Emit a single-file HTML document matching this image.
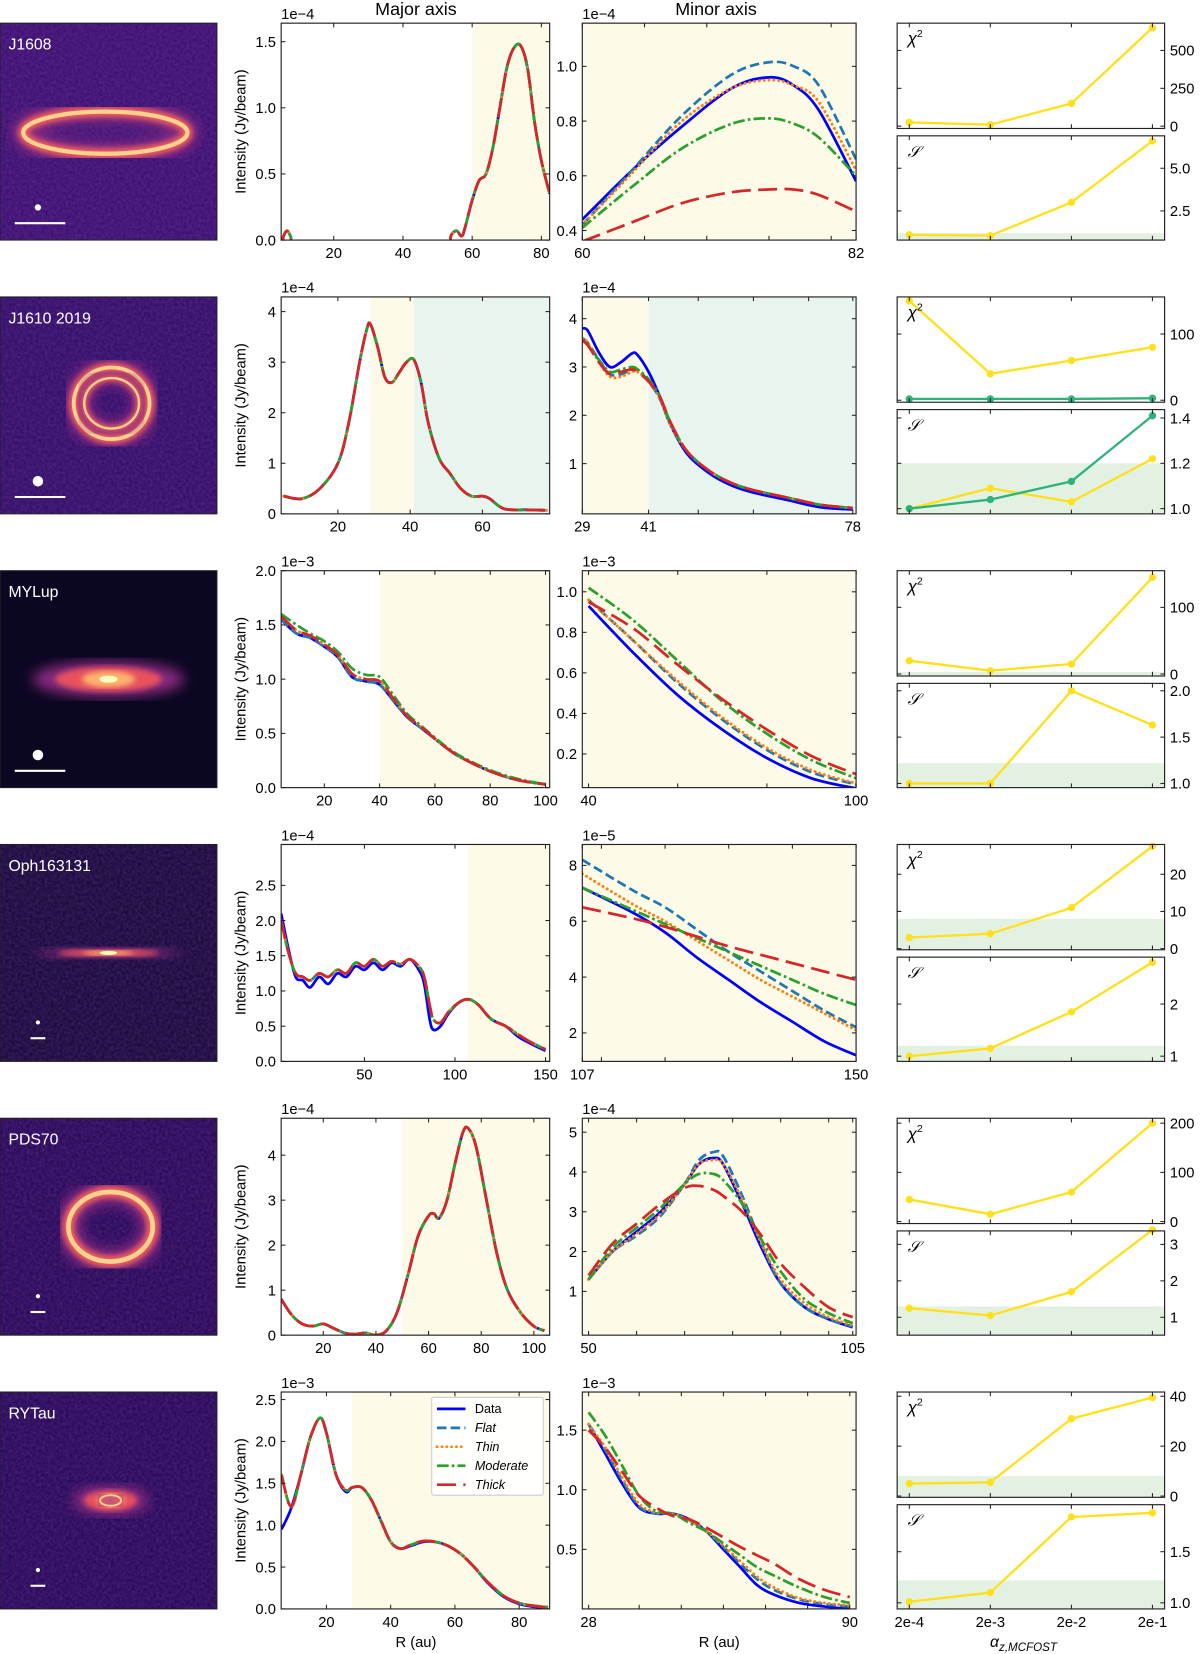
<!DOCTYPE html>
<html><head><meta charset="utf-8">
<style>
html,body{margin:0;padding:0;background:#fff;}
svg{display:block;font-family:"Liberation Sans","DejaVu Sans",sans-serif;}
</style></head>
<body>
<svg id="fig" width="1200" height="1654" viewBox="0 0 1139.6 1570.8" xmlns="http://www.w3.org/2000/svg">
<defs>
<filter id="noise" x="0" y="0" width="100%" height="100%">
<feTurbulence type="fractalNoise" baseFrequency="0.35" numOctaves="2" seed="3"/>
<feColorMatrix type="matrix" values="0 0 0 0 0.45  0 0 0 0 0.15  0 0 0 0 0.6  0 0 0 0.9 -0.2"/>
</filter>
<filter id="blur2"><feGaussianBlur stdDeviation="2.5"/></filter>
<filter id="blur5"><feGaussianBlur stdDeviation="6"/></filter>
</defs>
<text x="395" y="14" font-size="17" text-anchor="middle">Major axis</text>
<text x="680" y="14" font-size="17" text-anchor="middle">Minor axis</text>
<text x="395" y="1564" font-size="14" text-anchor="middle">R (au)</text>
<text x="683" y="1564" font-size="14" text-anchor="middle">R (au)</text>
<text x="972" y="1564" font-size="15" text-anchor="middle" font-style="italic">α<tspan font-size="11" dy="4">z,MCFOST</tspan></text>
</svg>
<script>
// ---------- data (display-space units: values of intensity in offset units) ----------
const rowNames = ["J1608","J1610 2019","MYLup","Oph163131","PDS70","RYTau"];
const offsets = ["1e\u22124","1e\u22124","1e\u22123","1e\u22124","1e\u22124","1e\u22123"];
const minorOffsets = ["1e\u22124","1e\u22124","1e\u22123","1e\u22125","1e\u22124","1e\u22123"];
const alphaLabels = ["2e-4","2e-3","2e-2","2e-1"];

// Row 1 J1608
const r1MajX = [4.8,5.5,6.5,7.5,9,20,40,52,54,55.5,57,58,60,62,64,66,68,70,72,74,76,78,80,82.4];
const r1MajY = [-0.05,0.03,0.07,0.03,-0.05,-0.1,-0.1,-0.05,0.04,0.07,0.03,0.1,0.3,0.45,0.5,0.7,1.0,1.3,1.45,1.47,1.3,0.9,0.6,0.35];
const r1MinX = [60,64,68,72,75,77,79,82];
const r1MinData = [0.44,0.62,0.78,0.92,0.96,0.93,0.84,0.58];
const r1MinFlat = [0.42,0.62,0.82,0.97,1.015,1.0,0.93,0.66];
const r1MinThin = [0.42,0.61,0.8,0.92,0.95,0.93,0.87,0.62];
const r1MinMod = [0.41,0.56,0.7,0.79,0.81,0.79,0.74,0.6];
const r1MinThick = [0.36,0.43,0.5,0.54,0.55,0.55,0.53,0.47];
const r1Chi = [25,10,150,650];
const r1S = [1.1,1.05,3.0,6.6];

// Row 2 J1610
const r2MajX = [5,10,15,20,23,26,28,29,31,33,35,37,39,41,43,45,48,51,54,57,60,62,66,72,78];
const r2MajY = [0.35,0.3,0.5,1.0,1.8,3.0,3.65,3.75,3.3,2.7,2.6,2.8,3.0,3.05,2.6,1.8,1.1,0.8,0.5,0.35,0.35,0.3,0.1,0.08,0.07];
const r2MinX = [29,30,32,34,36,38,39,41,43,45,48,52,56,60,66,72,78];
const r2MinData = [3.8,3.75,3.3,3.0,3.1,3.28,3.25,2.9,2.4,1.8,1.2,0.8,0.55,0.4,0.25,0.1,0.05];
const r2MinFlat = [3.6,3.5,3.15,2.85,2.85,2.95,2.95,2.7,2.35,1.8,1.25,0.85,0.6,0.45,0.3,0.15,0.08];
const r2MinThin = [3.6,3.5,3.1,2.8,2.8,2.9,2.9,2.7,2.35,1.8,1.25,0.85,0.6,0.45,0.3,0.15,0.08];
const r2MinMod = [3.55,3.45,3.15,2.9,2.95,3.0,2.95,2.75,2.4,1.85,1.25,0.85,0.6,0.45,0.3,0.15,0.08];
const r2MinThick = [3.55,3.45,3.1,2.85,2.9,2.95,2.9,2.7,2.4,1.85,1.25,0.85,0.6,0.45,0.3,0.15,0.08];
const r2Chi = [150,40,60,80];
const r2ChiG = [2,2,2,3];
const r2S = [1.0,1.09,1.03,1.22];
const r2SG = [1.0,1.04,1.12,1.41];

// Row 3 MYLup
const r3MajX = [4.4,10,15,20,25,30,35,40,45,50,55,60,65,70,80,90,100];
const r3MajData = [1.55,1.42,1.38,1.3,1.2,1.02,0.98,0.95,0.8,0.65,0.55,0.45,0.35,0.27,0.15,0.07,0.03];
const r3MajMod = [1.6,1.5,1.42,1.35,1.25,1.1,1.04,1.02,0.85,0.68,0.57,0.46,0.36,0.28,0.16,0.08,0.03];
const r3MajThick = [1.58,1.45,1.4,1.32,1.22,1.05,1.0,0.98,0.82,0.66,0.56,0.45,0.35,0.27,0.15,0.07,0.03];
const r3MinX = [40,50,60,70,80,90,100];
const r3MinData = [0.93,0.7,0.49,0.32,0.18,0.08,0.03];
const r3MinFlat = [0.96,0.76,0.55,0.37,0.22,0.11,0.05];
const r3MinThin = [0.96,0.76,0.56,0.38,0.23,0.12,0.055];
const r3MinMod = [1.02,0.86,0.66,0.46,0.3,0.17,0.08];
const r3MinThick = [0.95,0.82,0.64,0.47,0.32,0.19,0.1];
const r3Chi = [20,5,15,145];
const r3S = [1.0,1.0,2.0,1.63];

// Row 4 Oph163131
const r4MajX = [4,8,12,16,20,25,30,35,40,45,50,55,60,65,70,75,80,83,86,88,92,97,103,108,113,120,128,135,142,150];
const r4MajData = [2.1,1.6,1.2,1.15,1.05,1.2,1.1,1.25,1.2,1.35,1.3,1.4,1.3,1.4,1.35,1.45,1.3,1.1,0.6,0.45,0.5,0.7,0.85,0.88,0.8,0.6,0.5,0.35,0.25,0.15];
const r4MajModel = [2.0,1.55,1.25,1.2,1.15,1.25,1.2,1.3,1.25,1.4,1.35,1.45,1.35,1.42,1.38,1.45,1.35,1.2,0.8,0.6,0.55,0.72,0.85,0.88,0.8,0.6,0.5,0.38,0.27,0.17];
const r4MinX = [107,115,120,125,130,135,140,145,150];
const r4MinData = [7.2,6.3,5.6,4.7,3.9,3.1,2.4,1.7,1.2];
const r4MinFlat = [8.2,7.1,6.5,5.7,4.9,4.2,3.5,2.8,2.2];
const r4MinThin = [7.7,6.6,6.0,5.3,4.6,3.9,3.3,2.7,2.1];
const r4MinMod = [7.2,6.4,5.9,5.4,4.9,4.4,3.9,3.4,3.0];
const r4MinThick = [6.5,6.1,5.8,5.45,5.1,4.8,4.5,4.2,3.9];
const r4Chi = [3,4,11,27.5];
const r4S = [1.0,1.15,1.85,2.8];

// Row 5 PDS70
const r5MajX = [4,8,12,16,20,24,28,32,36,40,44,48,52,56,60,62,64,67,70,73,75,78,82,86,90,95,100,104];
const r5MajY = [0.8,0.45,0.25,0.2,0.25,0.15,0.05,0.02,0.05,0.0,0.1,0.5,1.3,2.2,2.65,2.7,2.6,3.0,3.8,4.5,4.6,4.2,3.0,1.8,1.0,0.5,0.2,0.1];
const r5MinX = [50,55,60,65,70,73,76,78,82,86,90,95,100,105];
const r5MinData = [1.3,2.0,2.5,3.0,3.7,4.2,4.35,4.2,3.2,2.1,1.2,0.6,0.3,0.1];
const r5MinFlat = [1.3,2.0,2.4,2.9,3.7,4.3,4.5,4.4,3.4,2.2,1.2,0.6,0.3,0.12];
const r5MinThin = [1.3,2.0,2.45,2.95,3.7,4.2,4.3,4.2,3.3,2.2,1.3,0.7,0.35,0.15];
const r5MinMod = [1.3,2.1,2.6,3.1,3.7,3.95,3.95,3.8,3.2,2.3,1.5,0.8,0.45,0.2];
const r5MinThick = [1.4,2.2,2.7,3.2,3.6,3.65,3.55,3.4,3.0,2.4,1.7,1.1,0.6,0.35];
const r5Chi = [45,15,60,200];
const r5S = [1.25,1.05,1.7,3.4];

// Row 6 RYTau
const r6MajX = [6,9,12,15,18,20,23,26,28,31,34,37,40,43,46,50,54,58,62,66,70,75,80,86,89];
const r6MajData = [0.95,1.2,1.6,2.05,2.28,2.1,1.6,1.4,1.45,1.45,1.3,1.05,0.8,0.72,0.75,0.8,0.8,0.75,0.65,0.5,0.32,0.15,0.06,0.02,0.02];
const r6MajModel = [1.6,1.22,1.6,2.05,2.28,2.1,1.6,1.42,1.45,1.45,1.3,1.05,0.8,0.72,0.76,0.81,0.8,0.75,0.65,0.5,0.33,0.16,0.07,0.03,0.02];
const r6MinX = [28,32,36,40,44,48,52,56,60,64,68,72,78,84,90];
const r6MinData = [1.55,1.3,1.05,0.85,0.8,0.8,0.75,0.65,0.5,0.35,0.2,0.12,0.05,0.02,0.0];
const r6MinFlat = [1.55,1.33,1.08,0.86,0.8,0.8,0.74,0.65,0.52,0.38,0.25,0.16,0.08,0.04,0.02];
const r6MinThin = [1.55,1.35,1.1,0.88,0.81,0.8,0.74,0.65,0.53,0.4,0.27,0.18,0.09,0.05,0.03];
const r6MinMod = [1.65,1.45,1.2,0.95,0.82,0.8,0.72,0.65,0.55,0.45,0.35,0.28,0.18,0.1,0.05];
const r6MinThick = [1.5,1.35,1.15,0.95,0.85,0.78,0.75,0.68,0.6,0.52,0.45,0.38,0.25,0.16,0.1];
const r6Chi = [5,5.5,31,39.5];
const r6S = [1.01,1.1,1.84,1.88];

// ---------- drawing ----------
const NS = "http://www.w3.org/2000/svg";
const fig = document.getElementById('fig');
function el(tag, attrs, parent){ const e=document.createElementNS(NS,tag); for(const k in attrs) e.setAttribute(k,attrs[k]); (parent||fig).appendChild(e); return e; }
const STY = {
  data:{stroke:"#0000ff",dash:"",w:2.6,cap:"butt"},
  flat:{stroke:"#1f77b4",dash:"9,4",w:2.6,cap:"butt"},
  thin:{stroke:"#ff7f0e",dash:"0.1,4.5",w:2.8,cap:"round"},
  mod:{stroke:"#2ca02c",dash:"11,3,2.5,3",w:2.6,cap:"butt"},
  thick:{stroke:"#d62728",dash:"18,7",w:2.6,cap:"butt"}
};
let clipId=0;
function smoothPath(pts){
  let d="M"+pts[0][0].toFixed(2)+","+pts[0][1].toFixed(2);
  for(let i=0;i<pts.length-1;i++){
    const p0=pts[i-1]||pts[i], p1=pts[i], p2=pts[i+1], p3=pts[i+2]||p2;
    const c1=[p1[0]+(p2[0]-p0[0])/6, p1[1]+(p2[1]-p0[1])/6];
    const c2=[p2[0]-(p3[0]-p1[0])/6, p2[1]-(p3[1]-p1[1])/6];
    d+=" C"+c1[0].toFixed(2)+","+c1[1].toFixed(2)+" "+c2[0].toFixed(2)+","+c2[1].toFixed(2)+" "+p2[0].toFixed(2)+","+p2[1].toFixed(2);
  }
  return d;
}
function panel(c){
  const g=el('g',{});
  
  
  const sx=v=>c.x+(v-c.xd[0])/(c.xd[1]-c.xd[0])*c.w;
  const sy=v=>c.y+c.h-(v-c.yd[0])/(c.yd[1]-c.yd[0])*c.h;
  const id="cp"+(clipId++);
  const cp=el('clipPath',{id:id},g); el('rect',{x:c.x,y:c.y,width:c.w,height:c.h},cp);
  (c.vshade||[]).forEach(s=>{
    const r=el('rect',{x:sx(s[0]),y:c.y,width:sx(s[1])-sx(s[0]),height:c.h,fill:s[2],'clip-path':`url(#${id})`},g);
    
    
  });
  if(c.hshade!==undefined){
    const r=el('rect',{x:c.x,y:sy(c.hshade),width:c.w,height:c.y+c.h-sy(c.hshade),fill:"#e3f1e3",'clip-path':`url(#${id})`},g);
    
    
  }
  (c.series||[]).forEach(s=>{
    const pts=s.xs.map((v,i)=>[sx(v),sy(s.ys[i])]);
    const st=STY[s.style];
    const p=el('path',{d:smoothPath(pts),fill:"none",stroke:st.stroke,'stroke-width':st.w,'stroke-dasharray':st.dash,'stroke-linecap':st.cap,'clip-path':`url(#${id})`},g);
    
    
  });
  (c.lines||[]).forEach(s=>{
    const pts=s.ys.map((v,i)=>[sx(i),sy(v)]);
    const p=el('polyline',{points:pts.map(q=>q.join(",")).join(" "),fill:"none",stroke:s.color,'stroke-width':2.2},g);
    
    
    pts.forEach(q=>{
      const m=el('circle',{cx:q[0],cy:q[1],r:3.5,fill:s.color},g);
      
      
    });
  });
  el('rect',{x:c.x,y:c.y,width:c.w,height:c.h,fill:"none",stroke:"#222",'stroke-width':1.1},g);
  c.xt.forEach((v,i)=>{
    const X=sx(v);
    el('line',{x1:X,x2:X,y1:c.y+c.h,y2:c.y+c.h-4,stroke:"#222"},g);
    el('line',{x1:X,x2:X,y1:c.y,y2:c.y+4,stroke:"#222"},g);
    const lab=c.xl?c.xl[i]:'';
    if(lab){ const t=el('text',{x:X,y:c.y+c.h+17,'font-size':14,'text-anchor':'middle'},g); t.textContent=lab;
        }
  });
  c.yt.forEach((v,i)=>{
    const Y=sy(v);
    el('line',{x1:c.x,x2:c.x+4,y1:Y,y2:Y,stroke:"#222"},g);
    el('line',{x1:c.x+c.w,x2:c.x+c.w-4,y1:Y,y2:Y,stroke:"#222"},g);
    const lab=c.yl[i];
    if(lab){
      const t=c.right?el('text',{x:c.x+c.w+5,y:Y+5,'font-size':14,'text-anchor':'start'},g)
                     :el('text',{x:c.x-5,y:Y+5,'font-size':14,'text-anchor':'end'},g);
      t.textContent=lab;
       
    }
  });
  if(c.offset){ const t=el('text',{x:c.x,y:c.y-4,'font-size':14},g); t.textContent=c.offset;
      }
  if(c.ylabel){ const t=el('text',{x:0,y:0,'font-size':14,'text-anchor':'middle',transform:`translate(${c.x-34},${c.y+c.h/2}) rotate(-90)`},g); t.textContent=c.ylabel;
      }
  if(c.tag){ const t=el('text',{x:c.x+10,y:c.y+20,'font-size':c.tag==="χ"?16:15,'font-style':'italic'},g); t.textContent=c.tag;
    if(c.tag==="χ"){ const s=el('tspan',{'font-size':10,dy:-7,'font-style':'normal'},t); s.textContent="2"; }
      }
  return g;
}
const YEL="#ffe01a", GRN="#2db37a", YSH="#fdfbe8", GSH="#e8f5ee";
const MAJ={x:267,w:255}, MIN={x:553,w:260}, RP={x:852,w:254};
function T(r){return 22+260*r;}
function models(xs,f,t,m,k){return [
  {xs:xs,ys:f,style:'flat',name:'flat-line'},{xs:xs,ys:t,style:'thin',name:'thin-line'},
  {xs:xs,ys:m,style:'mod',name:'moderate-line'},{xs:xs,ys:k,style:'thick',name:'thick-line'}];}
function rightPanels(r,chi,cd,ct,cl,S,sd,st,sl,chiG,SG,chiShade,sShade){
  const t=T(r);
  const c1={name:'chi2-panel-'+r,x:RP.x,y:t,w:RP.w,h:100,xd:[-0.15,3.15],yd:cd,xt:[0,1,2,3],yt:ct,yl:cl,right:true,tag:"χ",lines:[]};
  if(chiShade!==undefined) c1.hshade=chiShade;
  c1.lines.push({ys:chi,color:YEL,name:'chi2-line'});
  if(chiG) c1.lines.push({ys:chiG,color:GRN,name:'chi2-line-green'});
  panel(c1);
  const c2={name:'s-panel-'+r,x:RP.x,y:t+107,w:RP.w,h:99,xd:[-0.15,3.15],yd:sd,xt:[0,1,2,3],yt:st,yl:sl,right:true,tag:"𝒮",hshade:sShade,lines:[]};
  if(r===5) c2.xl=alphaLabels;
  c2.lines.push({ys:S,color:YEL,name:'s-line'});
  if(SG) c2.lines.push({ys:SG,color:GRN,name:'s-line-green'});
  panel(c2);
}
const YL="Intensity (Jy/beam)";
// Row 1
panel({name:'major-panel-j1608',x:MAJ.x,y:T(0),w:MAJ.w,h:206,xd:[4.8,82.4],yd:[0,1.64],xt:[20,40,60,80],xl:["20","40","60","80"],yt:[0,0.5,1.0,1.5],yl:["0.0","0.5","1.0","1.5"],offset:offsets[0],ylabel:YL,vshade:[[60,82.4,YSH]],
  series:[{xs:r1MajX,ys:r1MajY,style:'data',name:'data-line'},...models(r1MajX,r1MajY,r1MajY,r1MajY,r1MajY)]});
panel({name:'minor-panel-j1608',x:MIN.x,y:T(0),w:MIN.w,h:206,xd:[60,82],yd:[0.365,1.158],xt:[60,65,70,75,80,82],xl:["60","","","","","82"],yt:[0.4,0.6,0.8,1.0],yl:["0.4","0.6","0.8","1.0"],offset:minorOffsets[0],vshade:[[60,82,YSH]],
  series:[{xs:r1MinX,ys:r1MinData,style:'data',name:'data-line'},...models(r1MinX,r1MinFlat,r1MinThin,r1MinMod,r1MinThick)]});
rightPanels(0,r1Chi,[-15,680],[0,250,500],["0","250","500"],r1S,[0.79,6.9],[2.5,5.0],["2.5","5.0"],null,null,undefined,1.2);
// Row 2
panel({name:'major-panel-j1610',x:MAJ.x,y:T(1),w:MAJ.w,h:206,xd:[4.3,78.6],yd:[0,4.29],xt:[20,40,60],xl:["20","40","60"],yt:[0,1,2,3,4],yl:["0","1","2","3","4"],offset:offsets[1],ylabel:YL,vshade:[[29,41,YSH],[41,78.6,GSH]],
  series:[{xs:r2MajX,ys:r2MajY,style:'data',name:'data-line'},...models(r2MajX,r2MajY,r2MajY,r2MajY,r2MajY)]});
panel({name:'minor-panel-j1610',x:MIN.x,y:T(1),w:MIN.w,h:206,xd:[29,78.6],yd:[-0.04,4.45],xt:[29,41,50,60,70,78],xl:["29","41","","","","78"],yt:[1,2,3,4],yl:["1","2","3","4"],offset:minorOffsets[1],vshade:[[29,41,YSH],[41,78.6,GSH]],
  series:[{xs:r2MinX,ys:r2MinData,style:'data',name:'data-line'},...models(r2MinX,r2MinFlat,r2MinThin,r2MinMod,r2MinThick)]});
rightPanels(1,r2Chi,[-3,156],[0,100],["0","100"],r2S,[0.977,1.437],[1.0,1.2,1.4],["1.0","1.2","1.4"],r2ChiG,r2SG,undefined,1.2);
// Row 3
panel({name:'major-panel-mylup',x:MAJ.x,y:T(2),w:MAJ.w,h:206,xd:[4.4,101.5],yd:[0,2.0],xt:[20,40,60,80,100],xl:["20","40","60","80","100"],yt:[0,0.5,1.0,1.5,2.0],yl:["0.0","0.5","1.0","1.5","2.0"],offset:offsets[2],ylabel:YL,vshade:[[40,101.5,YSH]],
  series:[{xs:r3MajX,ys:r3MajData,style:'data',name:'data-line'},...models(r3MajX,r3MajData,r3MajThick,r3MajMod,r3MajThick)]});
panel({name:'minor-panel-mylup',x:MIN.x,y:T(2),w:MIN.w,h:206,xd:[38.6,100],yd:[0.034,1.104],xt:[40,60,80,100],xl:["40","","","100"],yt:[0.2,0.4,0.6,0.8,1.0],yl:["0.2","0.4","0.6","0.8","1.0"],offset:minorOffsets[2],vshade:[[38.6,100,YSH]],
  series:[{xs:r3MinX,ys:r3MinData,style:'data',name:'data-line'},...models(r3MinX,r3MinFlat,r3MinThin,r3MinMod,r3MinThick)]});
rightPanels(2,r3Chi,[-3,155],[0,100],["0","100"],r3S,[0.955,2.08],[1.0,1.5,2.0],["1.0","1.5","2.0"],null,null,3,1.22);
// Row 4
panel({name:'major-panel-oph163131',x:MAJ.x,y:T(3),w:MAJ.w,h:206,xd:[4,152.3],yd:[0,3.08],xt:[50,100,150],xl:["50","100","150"],yt:[0,0.5,1.0,1.5,2.0,2.5],yl:["0.0","0.5","1.0","1.5","2.0","2.5"],offset:offsets[3],ylabel:YL,vshade:[[107,152.3,YSH]],
  series:[{xs:r4MajX,ys:r4MajData,style:'data',name:'data-line'},...models(r4MajX,r4MajModel,r4MajModel,r4MajModel,r4MajModel)]});
panel({name:'minor-panel-oph163131',x:MIN.x,y:T(3),w:MIN.w,h:206,xd:[107,150],yd:[0.98,8.75],xt:[107,110,120,130,140,150],xl:["107","","","","","150"],yt:[2,4,6,8],yl:["2","4","6","8"],offset:minorOffsets[3],vshade:[[107,150,YSH]],
  series:[{xs:r4MinX,ys:r4MinData,style:'data',name:'data-line'},...models(r4MinX,r4MinFlat,r4MinThin,r4MinMod,r4MinThick)]});
rightPanels(3,r4Chi,[-0.3,28],[0,10,20],["0","10","20"],r4S,[0.9,2.9],[1,2],["1","2"],null,null,8,1.2);
// Row 5
panel({name:'major-panel-pds70',x:MAJ.x,y:T(4),w:MAJ.w,h:206,xd:[4,106],yd:[0,4.82],xt:[20,40,60,80,100],xl:["20","40","60","80","100"],yt:[0,1,2,3,4],yl:["0","1","2","3","4"],offset:offsets[4],ylabel:YL,vshade:[[50,106,YSH]],
  series:[{xs:r5MajX,ys:r5MajY,style:'data',name:'data-line'},...models(r5MajX,r5MajY,r5MajY,r5MajY,r5MajY)]});
panel({name:'minor-panel-pds70',x:MIN.x,y:T(4),w:MIN.w,h:206,xd:[48.7,105.7],yd:[-0.1,5.35],xt:[50,60,70,80,90,100,105],xl:["50","","","","","","105"],yt:[1,2,3,4,5],yl:["1","2","3","4","5"],offset:minorOffsets[4],vshade:[[48.7,105.7,YSH]],
  series:[{xs:r5MinX,ys:r5MinData,style:'data',name:'data-line'},...models(r5MinX,r5MinFlat,r5MinThin,r5MinMod,r5MinThick)]});
rightPanels(4,r5Chi,[-4,210],[0,100,200],["0","100","200"],r5S,[0.51,3.37],[1,2,3],["1","2","3"],null,null,undefined,1.3);
// Row 6
panel({name:'major-panel-rytau',x:MAJ.x,y:T(5),w:MAJ.w,h:206,xd:[5.9,89.5],yd:[0,2.59],xt:[20,40,60,80],xl:["20","40","60","80"],yt:[0,0.5,1.0,1.5,2.0,2.5],yl:["0.0","0.5","1.0","1.5","2.0","2.5"],offset:offsets[5],ylabel:YL,vshade:[[28,89.5,YSH]],
  series:[{xs:r6MajX,ys:r6MajData,style:'data',name:'data-line'},...models(r6MajX,r6MajModel,r6MajModel,r6MajModel,r6MajModel)]});
panel({name:'minor-panel-rytau',x:MIN.x,y:T(5),w:MIN.w,h:206,xd:[26.5,91.5],yd:[0,1.82],xt:[28,40,50,60,70,80,90],xl:["28","","","","","","90"],yt:[0.5,1.0,1.5],yl:["0.5","1.0","1.5"],offset:minorOffsets[5],vshade:[[26.5,91.5,YSH]],
  series:[{xs:r6MinX,ys:r6MinData,style:'data',name:'data-line'},...models(r6MinX,r6MinFlat,r6MinThin,r6MinMod,r6MinThick)]});
rightPanels(5,r6Chi,[-0.5,41.7],[0,20,40],["0","20","40"],r6S,[0.94,1.96],[1.0,1.5],["1.0","1.5"],null,null,8,1.22);

// Legend
const lg=el('g',{});


el('rect',{x:410,y:1327,width:106,height:93,fill:"#fff",'fill-opacity':0.85,stroke:"#ccc",rx:2},lg);
const legNames=["Data","Flat","Thin","Moderate","Thick"], legSty=["data","flat","thin","mod","thick"];
legNames.forEach((n,i)=>{
  const y=1338+i*18, st=STY[legSty[i]];
  const ln=el('line',{x1:415,x2:442,y1:y,y2:y,stroke:st.stroke,'stroke-width':2.6,'stroke-dasharray':st.dash,'stroke-linecap':st.cap},lg);
  
  
  const t=el('text',{x:451,y:y+4,'font-size':12,'font-style':i?'italic':'normal'},lg); t.textContent=n;
  
  
});

// Images
const imgs=[
  {bg:"#3d1273",draw:(g,t)=>{ring(g,100,t+104,78,20,9);}},
  {bg:"#35106a",draw:(g,t)=>{ring(g,106,t+101,36,34,8);ring(g,106,t+101,26,24,5);}},
  {bg:"#0b0722",draw:(g,t)=>{blob(g,103,t+103,72,17);}},
  {bg:"#1b0c3f",draw:(g,t)=>{blob(g,103,t+103,68,5);}},
  {bg:"#2b0b5c",draw:(g,t)=>{ring(g,105,t+103,40,33,10);}},
  {bg:"#2a0b5c",draw:(g,t)=>{blob(g,105,t+103,36,14);ring(g,105,t+103,10,5,4);}}
];
function ring(g,cx,cy,rx,ry,w){
  el('ellipse',{cx:cx,cy:cy,rx:rx,ry:ry,fill:"none",stroke:"#8c2981",'stroke-width':w*2.2,filter:"url(#blur5)"},g);
  el('ellipse',{cx:cx,cy:cy,rx:rx,ry:ry,fill:"none",stroke:"#f1605d",'stroke-width':w*1.1,filter:"url(#blur2)"},g);
  el('ellipse',{cx:cx,cy:cy,rx:rx,ry:ry,fill:"none",stroke:"#fdd28c",'stroke-width':w*0.45},g);
}
function blob(g,cx,cy,rx,ry){
  el('ellipse',{cx:cx,cy:cy,rx:rx,ry:ry,fill:"#8c2981",filter:"url(#blur5)"},g);
  el('ellipse',{cx:cx,cy:cy,rx:rx*0.7,ry:ry*0.7,fill:"#e8515d",filter:"url(#blur2)"},g);
  el('ellipse',{cx:cx,cy:cy,rx:rx*0.35,ry:ry*0.45,fill:"#fdb46e",filter:"url(#blur2)"},g);
  el('ellipse',{cx:cx,cy:cy,rx:rx*0.12,ry:Math.max(2,ry*0.2),fill:"#fcfdbf"},g);
}
imgs.forEach((im,r)=>{
  const t=T(r);
  const g=el('g',{});
  
  
  const cp=el('clipPath',{id:'ic'+r},g); el('rect',{x:0,y:t,width:206,height:206},cp);
  const inner=el('g',{'clip-path':`url(#ic${r})`},g);
  el('rect',{x:0,y:t,width:206,height:206,fill:im.bg},inner);
  if(r!==2) el('rect',{x:0,y:t,width:206,height:206,filter:"url(#noise)",opacity:0.35},inner);
  im.draw(inner,t);
  el('rect',{x:0,y:t,width:206,height:206,fill:"none",stroke:"#222",'stroke-width':1},g);
  const lab=el('text',{x:8,y:t+25,'font-size':15,fill:"#fff"},g); lab.textContent=rowNames[r];
  
  
  const br=[3,5,5,2,2,2][r], bw=[42,26,26,14,14,14][r];
  el('circle',{cx:36,cy:t+175-(r>2?t*0:0)+([0,0,0,-6,-6,-6][r]),r:br,fill:"#fff"},g);
  el('line',{x1:36-bw/2*1+ (r<3?-22+bw/2:0),x2:36+bw/2+(r<3?26-bw/2:0),y1:t+190+([0,0,0,-6,-6,-6][r]),y2:t+190+([0,0,0,-6,-6,-6][r]),stroke:"#fff",'stroke-width':2},g);
});
</script>
</body></html>
